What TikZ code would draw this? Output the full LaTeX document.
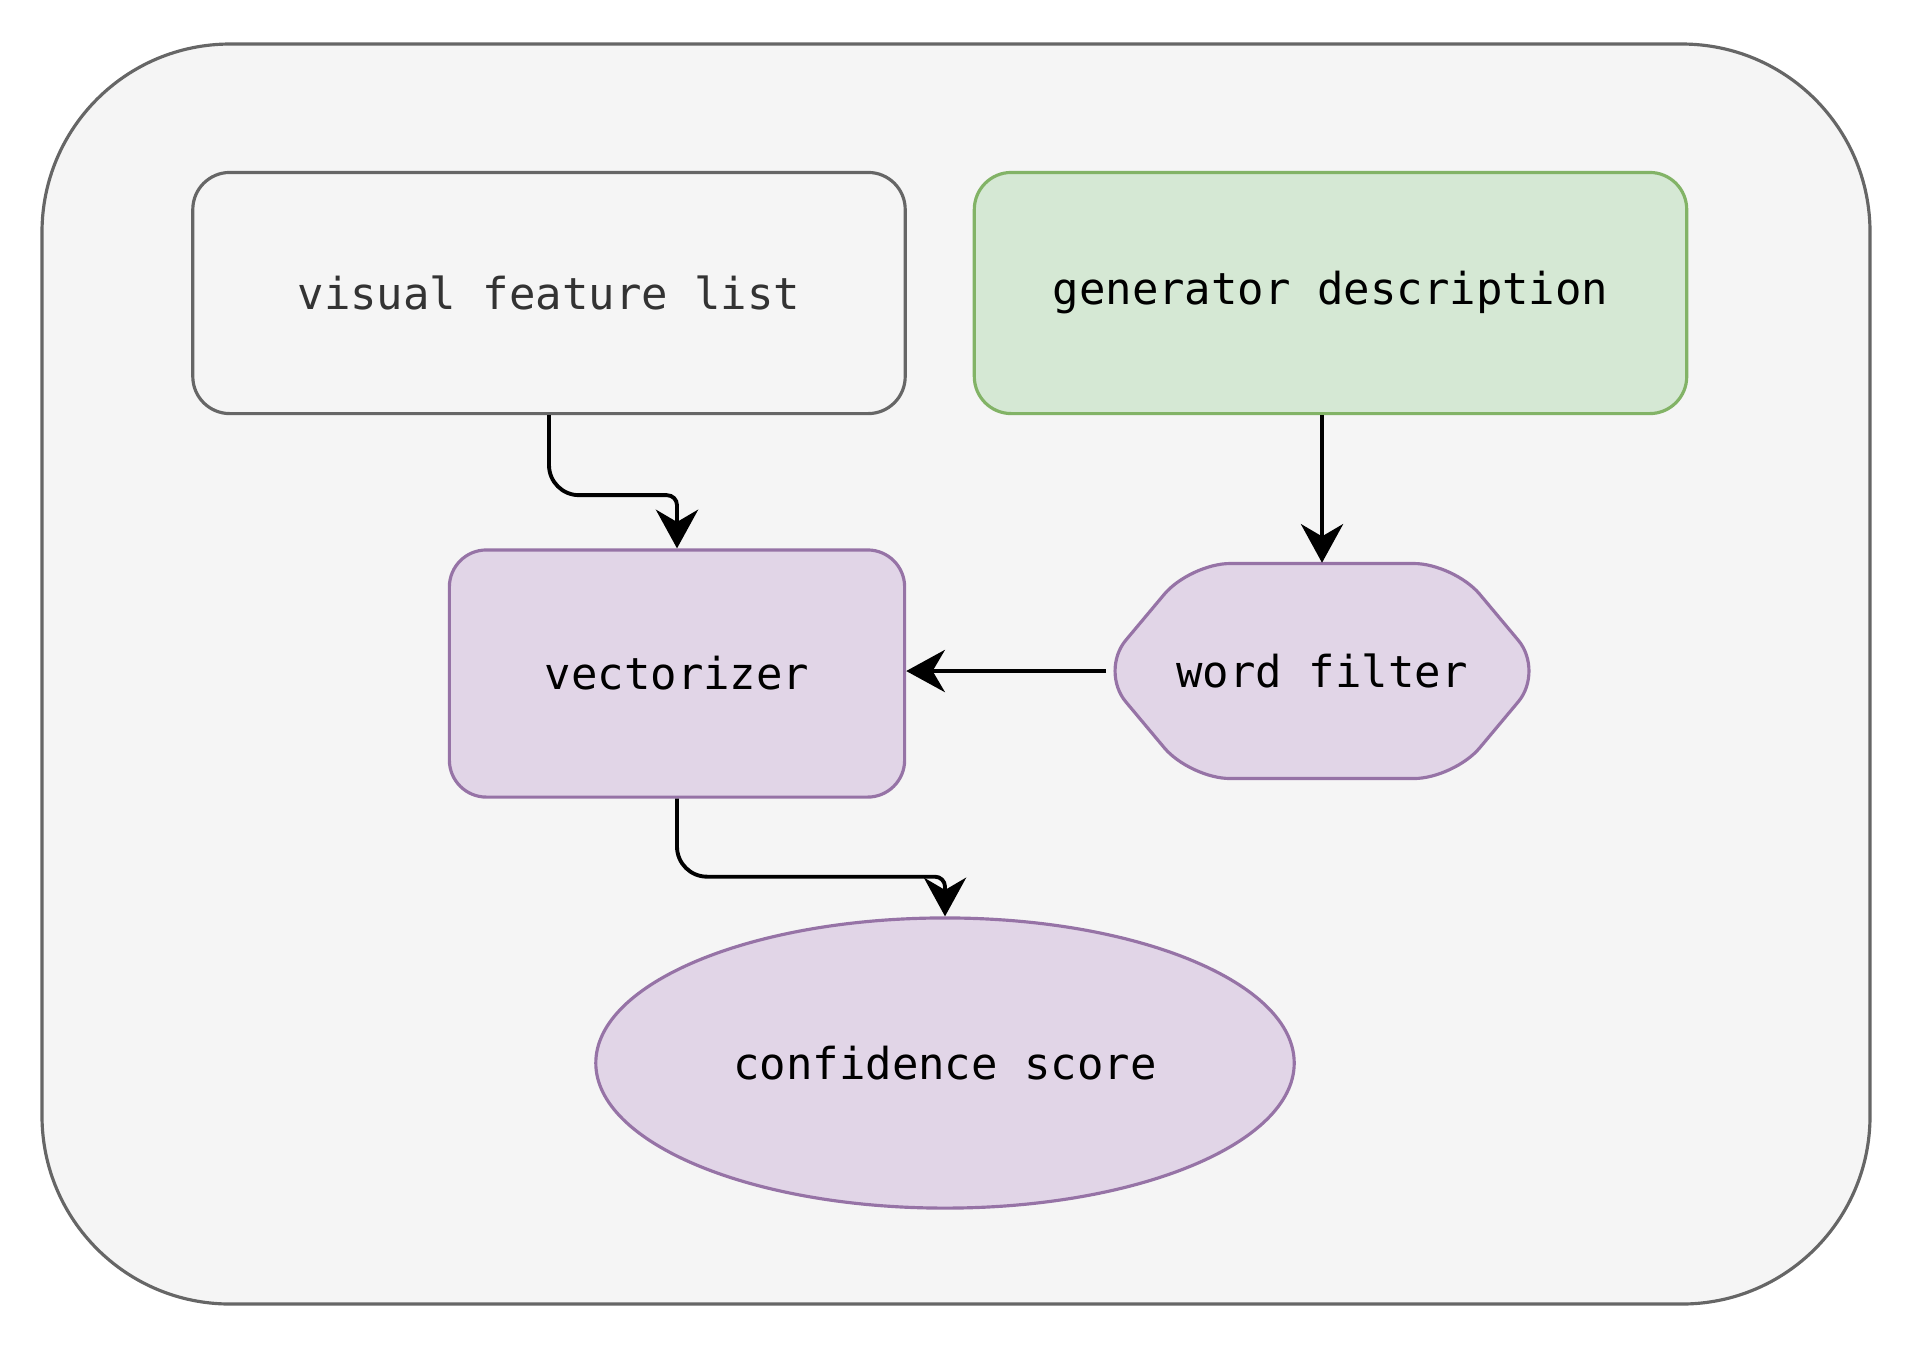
\documentclass[tikz,border=0pt]{standalone}
\usepackage{fontspec}
\setmonofont{DejaVu Sans Mono}
\usetikzlibrary{shapes.geometric,arrows.meta}
\definecolor{hgrau}{HTML}{F5F5F5}
\definecolor{rgrau}{HTML}{666666}
\definecolor{tgrau}{HTML}{333333}
\definecolor{hgruen}{HTML}{D5E8D4}
\definecolor{rgruen}{HTML}{82B366}
\definecolor{hlila}{HTML}{E1D5E7}
\definecolor{rlila}{HTML}{9673A6}
\tikzset{
    schrift/.style={font=\ttfamily\fontsize{12.5}{15}\selectfont},
    kasten/.style={schrift, draw, line width=0.9pt, rounded corners=0.37cm,
        minimum width=7.12cm, minimum height=2.41cm},
    lila/.style={draw=rlila, fill=hlila, line width=0.9pt},
    pfeil/.style={line width=1.1pt, rounded corners=0.3cm,
        -{Stealth[length=11pt,width=12pt,inset=3.5pt]}}
}
\begin{document}
\begin{tikzpicture}[x=0.01cm, y=-0.01cm]
            \useasboundingbox (0,0) rectangle (1916,1344);
            % Rahmen
            \draw[fill=hgrau, draw=rgrau, line width=0.9pt, rounded corners=1.88cm] (42,44) rectangle (1870,1304);
            % obere Reihe
            \node[kasten, draw=rgrau, fill=hgrau, text=tgrau] (merkmale) at (549,293) {visual feature list};
            \node[kasten, draw=rgruen, fill=hgruen] (generator) at (1330.5,293) {generator description};
            % Vektorisierer
            \node[kasten, lila, minimum width=4.55cm, minimum height=2.47cm] (vektor) at (677,673.5) {vectorizer};
            % Wortfilter (Sechseck)
            \coordinate (filtermitte) at (1322,671);
            \draw[lila, rounded corners=0.4cm, shift={(filtermitte)}]
                (0,-107.5) -- (132,-107.5) -- (222,0) -- (132,107.5) -- (-132,107.5) -- (-222,0) -- (-132,-107.5) -- cycle;
            \node[schrift, minimum width=4.1cm, minimum height=2.15cm, inner sep=0pt] (filter) at (filtermitte) {word filter};
            % Ergebnis
            \node[schrift, ellipse, lila, minimum width=6.98cm, minimum height=2.9cm] (score) at (945,1063) {confidence score};
            % Pfeile
            \draw[pfeil] (merkmale.south) -- ++(0,80) [rounded corners=0.1cm] -| (vektor.north);
            \draw[pfeil] (filter.north |- generator.south) -- (filter.north);
            \draw[pfeil] ([xshift=-0.1cm]filter.west) -- (vektor.east |- filter.west);
            \draw[pfeil] (vektor.south) -- ++(0,78) [rounded corners=0.1cm] -| (score.north);
\end{tikzpicture}
\end{document}
